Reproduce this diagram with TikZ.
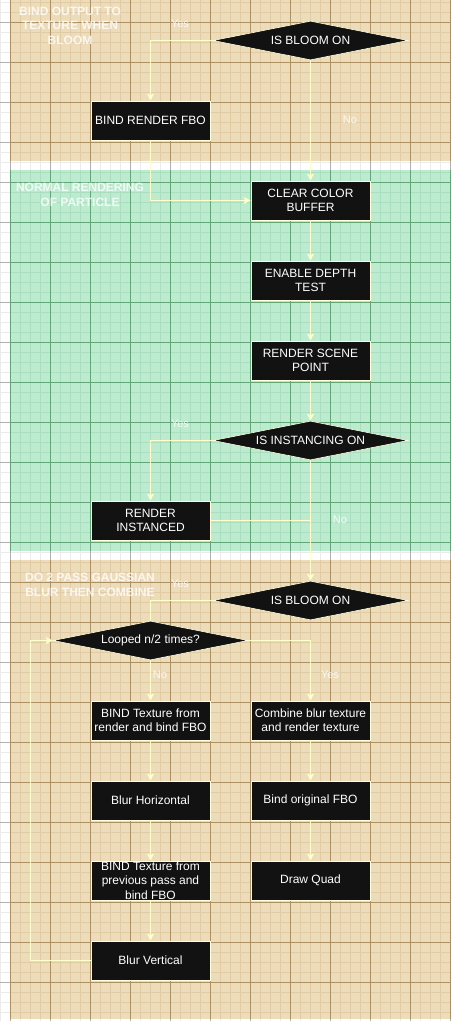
\documentclass[tikz,border=0pt]{standalone}
\usepackage{fontspec}
\setmainfont{Liberation Sans}
\usetikzlibrary{shapes.geometric,arrows.meta}
\definecolor{beigebg}{HTML}{EDDCBA}
\definecolor{beigemin}{HTML}{E0CBA5}
\definecolor{beigemaj}{HTML}{AD9063}
\definecolor{greenbg}{HTML}{BDEBD0}
\definecolor{greenmin}{HTML}{A9DEC0}
\definecolor{greenmaj}{HTML}{62A678}
\definecolor{whitemin}{HTML}{EBEBEB}
\definecolor{whitemaj}{HTML}{B0B0B0}
\definecolor{boxfill}{HTML}{121212}
\definecolor{cream}{HTML}{FFFFDC}
\definecolor{conn}{HTML}{FFFFCC}
\newcommand\regiongrid[7]{%
  \begin{scope}
    \clip (#1,#2) rectangle (#3,#4);
    \fill[#5] (#1,#2) rectangle (#3,#4);
    \foreach \gx in {0,10,...,450} \draw[#6,line width=0.8pt] (\gx,#2) -- (\gx,#4);
    \foreach \gy in {2,12,...,1022} \draw[#6,line width=0.8pt] (#1,\gy) -- (#3,\gy);
    \foreach \gx in {10,50,...,450} \draw[#7,line width=0.8pt] (\gx,#2) -- (\gx,#4);
    \foreach \gy in {22,62,...,1022} \draw[#7,line width=0.8pt] (#1,\gy) -- (#3,\gy);
  \end{scope}}
\begin{document}
\begin{tikzpicture}[x=1pt,y=-1pt,
  every node/.style={font=\fontsize{12}{14.4}\selectfont},
  stepbox/.style={draw=cream,line width=0.8pt,fill=boxfill,text=white,
    minimum width=119pt,minimum height=39pt,inner sep=0pt,align=center},
  decision/.style={diamond,aspect=5,draw=cream,line width=0.6pt,fill=boxfill,text=white,
    minimum width=195pt,minimum height=39pt,inner sep=0pt,align=center},
  conn/.style={draw=conn,line width=0.9pt},
  arr/.style={conn,-{Stealth[length=7pt,width=7pt,inset=1.5pt]}},
  edgelabel/.style={text=white,text opacity=0.85,font=\fontsize{11}{13}\selectfont,inner sep=0pt},
  sectionlabel/.style={text=white,text opacity=0.8,font=\bfseries\fontsize{12}{14.5}\selectfont,align=center,inner sep=0pt}]
\useasboundingbox (0,0) rectangle (451,1021);
% backgrounds
\regiongrid{0}{0}{451}{1021}{white}{whitemin}{whitemaj}
\regiongrid{10}{0}{451}{161}{beigebg}{beigemin}{beigemaj}
\regiongrid{10}{170}{451}{551}{greenbg}{greenmin}{greenmaj}
\regiongrid{10}{560}{451}{1019}{beigebg}{beigemin}{beigemaj}
% section labels
\node[sectionlabel] (s1) at (70,25.5) {BIND OUTPUT TO\\TEXTURE WHEN\\BLOOM};
\node[sectionlabel] (s2) at (80,195) {NORMAL RENDERING\\OF PARTICLE};
\node[sectionlabel] (s3) at (90,585) {DO 2 PASS GAUSSIAN\\BLUR THEN COMBINE};
% nodes
\node[decision] (d1) at (310.5,40.5) {IS BLOOM ON};
\node[stepbox] (b1) at (150.5,120.5) {BIND RENDER FBO};
\node[stepbox] (b2) at (310.5,200.5) {CLEAR COLOR\\BUFFER};
\node[stepbox] (b3) at (310.5,280.5) {ENABLE DEPTH\\TEST};
\node[stepbox] (b4) at (310.5,360.5) {RENDER SCENE\\POINT};
\node[decision] (d2) at (310.5,440.5) {IS INSTANCING ON};
\node[stepbox] (b5) at (150.5,520.5) {RENDER\\INSTANCED};
\node[decision] (d3) at (310.5,600.5) {IS BLOOM ON};
\node[decision] (d4) at (150.5,640.5) {Looped n/2 times?};
\node[stepbox] (b6) at (150.5,720.5) {BIND Texture from\\render and bind FBO};
\node[stepbox] (b7) at (310.5,720.5) {Combine blur texture\\and render texture};
\node[stepbox] (b8) at (150.5,800.5) {Blur Horizontal};
\node[stepbox] (b9) at (310.5,800.5) {Bind original FBO};
\node[stepbox] (b10) at (150.5,880.5) {BIND Texture from\\previous pass and\\bind FBO};
\node[stepbox] (b11) at (310.5,880.5) {Draw Quad};
\node[stepbox] (b12) at (150.5,960.5) {Blur Vertical};
\coordinate (loopc) at (30,640.5);
% connectors
\draw[arr] (d1.west) -| (b1.north);
\draw[arr] (d1.south) -- (b2.north);
\draw[arr] (b1.south) |- (b2.west);
\draw[arr] (b2) -- (b3);
\draw[arr] (b3) -- (b4);
\draw[arr] (b4) -- (d2.north);
\draw[arr] (d2.west) -| (b5.north);
\draw[arr] (d2.south) -- (d3.north);
\draw[conn] (b5.east) -- (d2.south |- b5.east);
\draw[conn] (d3.west) -| (d4.north);
\draw[arr] (d4.east) -| (b7.north);
\draw[arr] (d4.south) -- (b6.north);
\draw[arr] (b6) -- (b8);
\draw[arr] (b8) -- (b10);
\draw[arr] (b10) -- (b12);
\draw[arr] (b7) -- (b9);
\draw[arr] (b9) -- (b11);
\draw[arr] (b12.west) -| (loopc) -- (d4.west);
% edge labels
\node[edgelabel] (l1) at (180,24) {Yes};
\node[edgelabel] (l2) at (350,119.5) {No};
\node[edgelabel] (l3) at (180,424) {Yes};
\node[edgelabel] (l4) at (340,519.5) {No};
\node[edgelabel] (l5) at (180,584) {Yes};
\node[edgelabel] (l6) at (160,675) {No};
\node[edgelabel] (l7) at (330,675) {Yes};
\end{tikzpicture}
\end{document}
